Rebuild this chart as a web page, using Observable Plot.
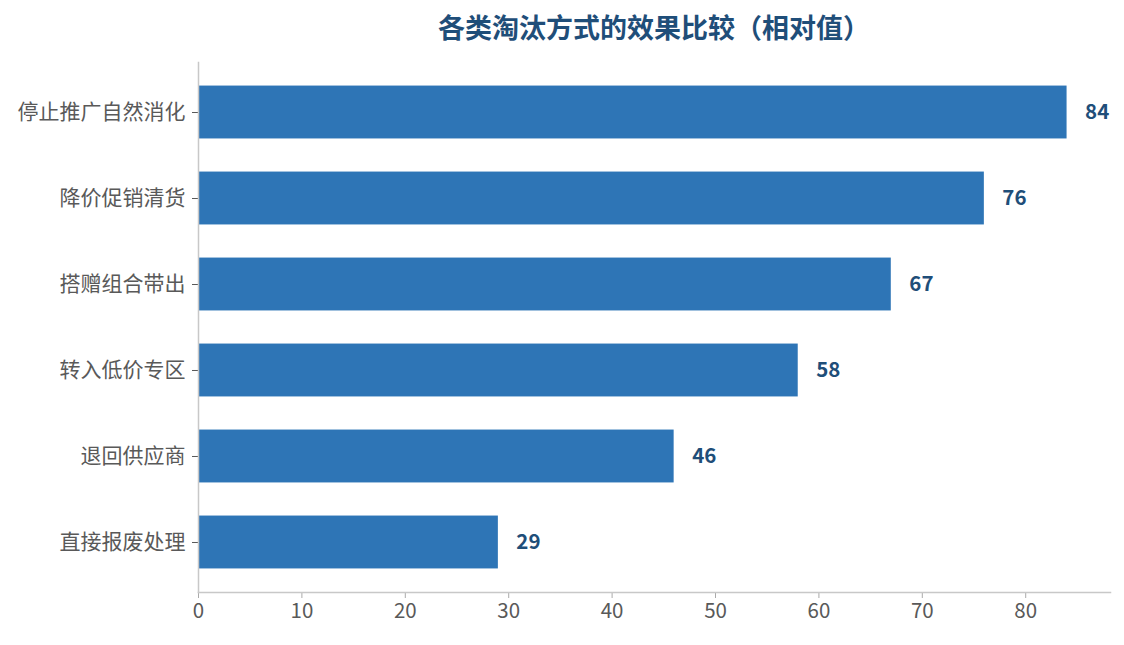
<!DOCTYPE html>
<html><head><meta charset="utf-8">
<script src="https://cdn.jsdelivr.net/npm/d3@7"></script>
<script src="https://cdn.jsdelivr.net/npm/@observablehq/plot@0.6"></script>
<style>
body{margin:0;background:#fff;font-family:"Noto Sans CJK SC","Noto Sans",sans-serif;}
#title{height:50px;line-height:54px;padding-left:198px;width:912px;text-align:center;font-size:27px;font-weight:bold;color:#1f4e79;}
#chart svg{display:block;}
</style></head>
<body>
<div id="title">各类淘汰方式的效果比较（相对值）</div>
<div id="chart"></div>
<script>
const categories = ["停止推广自然消化","降价促销清货","搭赠组合带出","转入低价专区","退回供应商","直接报废处理"];
const values = [84,76,67,58,46,29];
const xTicks = [0,10,20,30,40,50,60,70,80];
const data = categories.map((c,i)=>({cat:c,val:values[i]}));
const chart = Plot.plot({
  width:1124, height:595,
  marginLeft:198, marginRight:14, marginTop:12, marginBottom:53,
  style:{fontFamily:'"Noto Sans CJK SC","Noto Sans",sans-serif', fontSize:"20px", color:"#595959"},
  x:{domain:[0,88.2], label:null},
  y:{domain:categories, paddingInner:0.385, paddingOuter:0.274, round:false, label:null},
  marks:[
    Plot.barX(data,{x:"val", y:"cat", fill:"#2e75b6", insetTop:0, insetBottom:0}),
    Plot.text(data,{x:"val", y:"cat", text:d=>String(d.val), dx:18, textAnchor:"start", fill:"#1f4e79", fontWeight:"bold", fontSize:20.5}),
    Plot.axisX({ticks:xTicks, tickSize:6, tickPadding:5, stroke:"#aaa", fill:"#595959", fontSize:20.5, label:null}),
    Plot.axisY({tickSize:6, tickPadding:7, stroke:"#595959", fill:"#595959", fontSize:21, label:null}),
    Plot.frame({anchor:"left", stroke:"#c8c8c8", strokeWidth:1.5}),
    Plot.frame({anchor:"bottom", stroke:"#c8c8c8", strokeWidth:1.5})
  ]
});
document.getElementById("chart").appendChild(chart);
</script>
</body></html>
